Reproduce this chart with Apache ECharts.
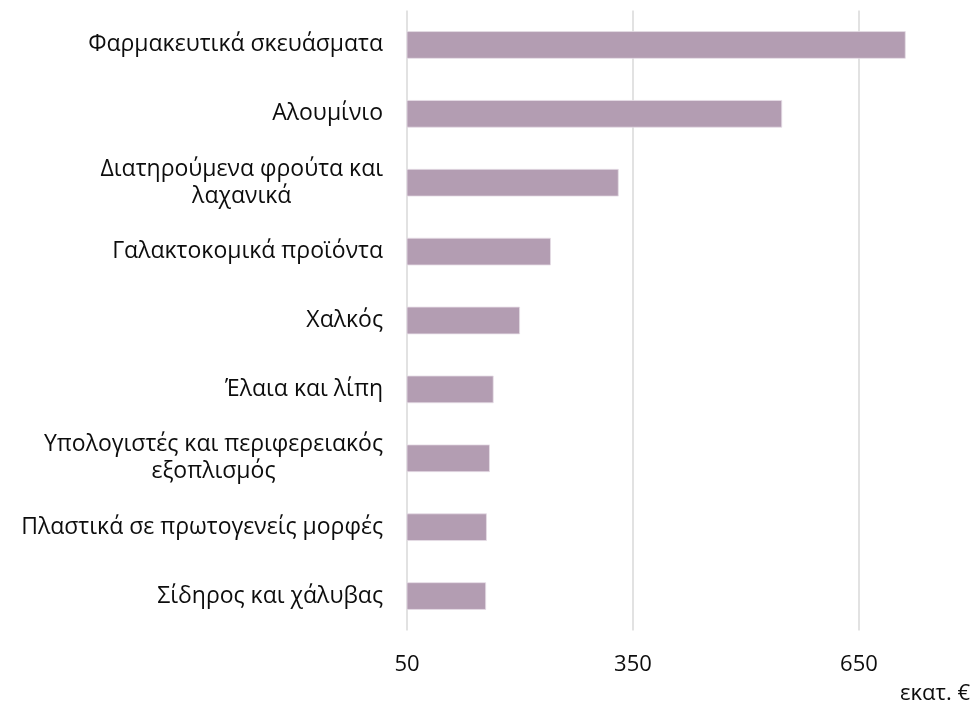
<!DOCTYPE html>
<html>
<head>
<meta charset="utf-8">
<script src="https://cdn.jsdelivr.net/npm/echarts@6/dist/echarts.min.js"></script>
<style>
html,body{margin:0;padding:0;background:#fff;}
#chart{width:977px;height:710px;}
</style>
</head>
<body>
<div id="chart"></div>
<script>
const categories = [
  "Φαρμακευτικά σκευάσματα",
  "Αλουμίνιο",
  "Διατηρούμενα φρούτα και\nλαχανικά",
  "Γαλακτοκομικά προϊόντα",
  "Χαλκός",
  "Έλαια και λίπη",
  "Υπολογιστές και περιφερειακός\nεξοπλισμός",
  "Πλαστικά σε πρωτογενείς μορφές",
  "Σίδηρος και χάλυβας"
];
const values = [712, 548, 331, 241, 200, 165, 160, 156, 155];
const tickValues = [50, 350, 650];
const unitLabel = "εκατ. €";

const FONT = "Open Sans";
const FS = 23;
const TXT = '#0d0d0d';
const chart = echarts.init(document.getElementById('chart'), null, {renderer: 'canvas'});
chart.setOption({
  animation: false,
  backgroundColor: '#ffffff',
  title: {
    text: unitLabel,
    right: 2,
    bottom: 0,
    textStyle: {fontFamily: FONT, fontSize: FS - 1, fontWeight: 'normal', color: TXT}
  },
  grid: {left: 407, right: 42.7, top: 10.5, bottom: 79.5, containLabel: false},
  xAxis: {
    type: 'value',
    min: 50,
    max: 750,
    interval: 300,
    axisLine: {show: false},
    axisTick: {show: false, customValues: tickValues},
    axisLabel: {
      customValues: tickValues,
      fontFamily: FONT, fontSize: FS - 1, color: TXT, margin: 23
    },
    splitLine: {show: true, lineStyle: {color: '#d9d9d9', width: 1.5}}
  },
  yAxis: {
    type: 'category',
    data: categories,
    inverse: true,
    axisLine: {show: false},
    axisTick: {show: false},
    axisLabel: {
      margin: 24,
      fontFamily: FONT, fontSize: FS, color: TXT,
      lineHeight: 27,
      formatter: function (v) {
        return v.split('\n').map(function (l) { return '{c|' + l + '}'; }).join('\n');
      },
      rich: {c: {align: 'center', fontFamily: FONT, fontSize: FS, color: TXT, lineHeight: 27}}
    }
  },
  series: [{
    type: 'bar',
    data: values,
    barWidth: '40%',
    itemStyle: {color: '#b39db2', borderColor: '#e6dde6', borderWidth: 0.8}
  }]
});
</script>
</body>
</html>
